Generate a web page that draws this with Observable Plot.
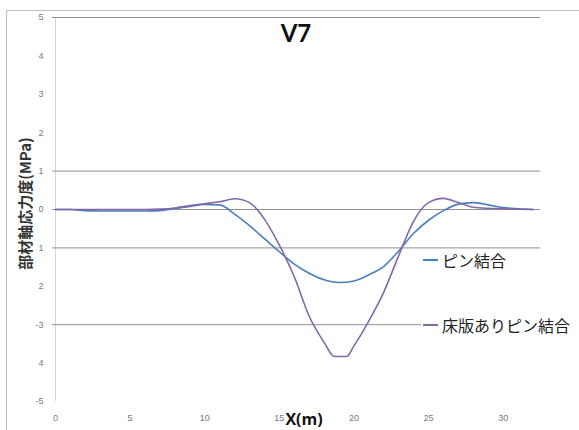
<!DOCTYPE html>
<html>
<head>
<meta charset="utf-8">
<script src="https://cdn.jsdelivr.net/npm/d3@7"></script>
<script src="https://cdn.jsdelivr.net/npm/@observablehq/plot@0.6"></script>
<style>
  body { margin: 0; background: #fff; }
  #wrap { position: relative; width: 579px; height: 430px; overflow: hidden; }
  #border { position: absolute; left: 6px; top: 10px; width: 580px; height: 440px; border: 1px solid #bdbdbd; pointer-events: none; }
  #legend { position: absolute; left: 421px; top: 251px; width: 158px; height: 90px; background: #fff;
            font-family: "Noto Sans CJK JP", sans-serif; font-size: 16px; color: #222; }
  .item { position: absolute; left: 0; display: flex; align-items: center; white-space: nowrap; line-height: 22px; }
  .swatch { display: inline-block; width: 15px; height: 2px; margin-left: 2px; margin-right: 4px; }
</style>
</head>
<body>
<div id="wrap"><div id="chart"></div><div id="legend"></div><div id="border"></div></div>
<script>
// ---- data ----
const seriesNames = ["ピン結合", "床版ありピン結合"];
const seriesColors = ["#4a7ebb", "#8268a8"];

const xBlue = [0,1,2,3,4,5,6,7,8,9,10,11,12,13,14,15,16,17,18,19,20,21,22,23,24,25,26,27,28,29,30,31,32];
const yBlue = [0,0,-0.03,-0.04,-0.04,-0.04,-0.04,-0.03,0.02,0.08,0.13,0.12,-0.12,-0.42,-0.76,-1.1,-1.42,-1.66,-1.83,-1.9,-1.86,-1.7,-1.48,-1.08,-0.62,-0.28,-0.03,0.14,0.18,0.12,0.05,0.02,0];

const xPurple = [0,1,2,3,4,5,6,7,8,9,10,11,12,13,14,15,16,17,18,18.7,19.5,20,21,22,23,24,25,26,27,28,29,30,31,32];
const yPurple = [0,0,0,0,0,0,0,0.01,0.04,0.1,0.15,0.2,0.28,0.18,-0.25,-0.93,-1.75,-2.78,-3.46,-3.83,-3.83,-3.55,-2.9,-2.15,-1.2,-0.3,0.18,0.29,0.18,0.06,0.03,0.02,0.01,0];

const yTickValues = [5,4,3,2,1,0,-1,-2,-3,-4,-5];
const yTickLabels = ["5","4","3","2","1","0","1","2","-3","4","-5"];
const xTickValues = [0,5,10,15,20,25,30];
const gridValues = [5,1,0,-1,-3];

const titleText = "V7";
const xLabel = "X(m)";
const yLabel = "部材軸応力度(MPa)";

// ---- table ----
const rows = [
  ...xBlue.map((x, i) => ({x, y: yBlue[i], s: seriesNames[0]})),
  ...xPurple.map((x, i) => ({x, y: yPurple[i], s: seriesNames[1]}))
];

const chart = Plot.plot({
  width: 579,
  height: 430,
  marginLeft: 55,
  marginRight: 39,
  marginTop: 17,
  marginBottom: 29,
  style: {fontFamily: "'Liberation Sans', sans-serif", background: "#fff"},
  x: {domain: [0, 32.5]},
  y: {domain: [-5, 5]},
  color: {domain: seriesNames, range: seriesColors},
  marks: [
    Plot.ruleX([0], {stroke: "#d4d4d4", strokeWidth: 1}),
    Plot.ruleY(gridValues, {stroke: "#8f8f8f", strokeWidth: 1}),
    Plot.axisY({ticks: gridValues, tickSize: 3, tickFormat: () => "", label: null, stroke: "#8f8f8f"}),
    Plot.axisY({ticks: yTickValues, tickSize: 0, tickPadding: 12, fontSize: 9, color: "#777",
                tickFormat: d => yTickLabels[yTickValues.indexOf(d)], label: null}),
    Plot.axisX({ticks: xTickValues, tickSize: 0, tickPadding: 13, fontSize: 9, color: "#777", label: null}),
    Plot.line(rows, {x: "x", y: "y", z: "s", stroke: "s", strokeWidth: 1.6, curve: "monotone-x"}),
    Plot.text([titleText], {frameAnchor: "top", lineAnchor: "top", dy: 7, dx: -2, fontSize: 24, fontWeight: "bold",
                            fontFamily: "Lato, sans-serif", fill: "#111"}),
    Plot.text([xLabel], {frameAnchor: "bottom", lineAnchor: "middle", dy: 18, dx: 6, fontSize: 16, fontWeight: "bold",
                         fontFamily: "'Open Sans', sans-serif", fill: "#111"}),
    Plot.text([yLabel], {frameAnchor: "left", textAnchor: "middle", lineAnchor: "middle", rotate: -90, dx: -29, dy: -6,
                         fontSize: 15, fontWeight: "bold",
                         fontFamily: "'Noto Sans CJK JP', sans-serif", fill: "#333"})
  ]
});
document.getElementById("chart").appendChild(chart);

// legend
const legend = document.getElementById("legend");
const legendTops = [-2, 63];
seriesNames.forEach((name, i) => {
  const item = document.createElement("div");
  item.className = "item";
  item.style.top = legendTops[i] + "px";
  const sw = document.createElement("span");
  sw.className = "swatch";
  sw.style.background = seriesColors[i];
  const label = document.createElement("span");
  label.textContent = name;
  item.appendChild(sw);
  item.appendChild(label);
  legend.appendChild(item);
});
</script>
</body>
</html>
